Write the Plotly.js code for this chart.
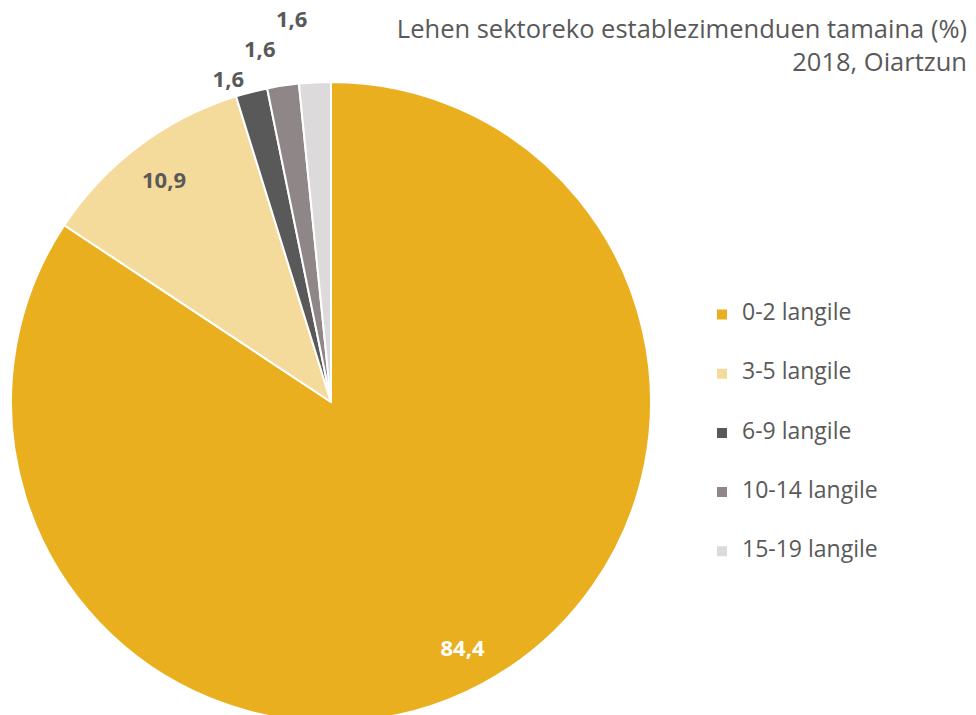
<!DOCTYPE html>
<html>
<head>
<meta charset="utf-8">
<script src="https://cdn.plot.ly/plotly-3.0.1.min.js"></script>
<style>
  html, body { margin: 0; padding: 0; overflow: hidden; background: #fff; }
  #chart { width: 976px; height: 760px; }
  /* the reference has no leader lines on the outside labels */
  #chart path.textline { display: none; }
</style>
</head>
<body>
<div id="chart"></div>
<script>
'use strict';

const categories = ['0-2 langile', '3-5 langile', '6-9 langile', '10-14 langile', '15-19 langile'];
const shares     = [84.4, 10.9, 1.6, 1.6, 1.6];
const colors     = ['#E9AF1F', '#F4DA9B', '#595959', '#8F8787', '#DCDADA'];
const titleLines = ['Lehen sektoreko establezimenduen tamaina (%)', '2018, Oiartzun'];

const W = 976, H = 760;
// pie centre (331, 402) and radius 320, in page pixels
const cx = 331, cy = 402, r = 320;
const domain = {
  x: [(cx - r) / W, (cx + r) / W],
  y: [(H - cy - r) / H, (H - cy + r) / H]
};

// blank lines above and below each entry widen the legend row spacing
const legendLabels = categories.map(c =>
  '<br><span style="font-size:23px">' + c + '</span><br> ');

const labelFont = { family: 'Open Sans', size: 22, weight: 'bold', color: '#595959' };

// the slices, with outside labels for the thin ones
const slices = {
  type: 'pie',
  labels: legendLabels,
  values: shares,
  sort: false,
  direction: 'clockwise',
  rotation: 0,
  marker: { colors: colors, line: { color: '#fff', width: 2 } },
  texttemplate: ['', '', '%{value:.1f}', '%{value:.1f}', '%{value:.1f}'],
  textposition: ['none', 'none', 'outside', 'outside', 'outside'],
  textfont: labelFont,
  outsidetextfont: labelFont,
  hoverinfo: 'skip',
  domain: domain
};

// transparent ring on top: puts the big slices' labels near the rim
const rimLabels = {
  type: 'pie',
  labels: legendLabels,
  values: shares,
  sort: false,
  direction: 'clockwise',
  rotation: 0,
  hole: 0.74,
  showlegend: false,
  marker: { colors: shares.map(() => 'rgba(0,0,0,0)'), line: { width: 0 } },
  texttemplate: ['%{value:.1f}', '%{value:.1f}', '', '', ''],
  textposition: ['inside', 'inside', 'none', 'none', 'none'],
  insidetextorientation: 'horizontal',
  textfont: labelFont,
  insidetextfont: Object.assign({}, labelFont, { color: ['#fff', '#595959', '#fff', '#fff', '#fff'] }),
  hoverinfo: 'skip',
  domain: domain
};

const layout = {
  width: W,
  height: H,
  margin: { t: 0, b: 0, l: 0, r: 0 },
  separators: ',.',
  paper_bgcolor: '#fff',
  font: { family: 'Open Sans', color: '#595959' },
  title: {
    text: titleLines.join('<br>'),
    font: { family: 'Open Sans', size: 25.5, color: '#595959' },
    x: 967 / W, xanchor: 'right', xref: 'paper',
    y: 1 - 38 / H, yanchor: 'top', yref: 'container'
  },
  showlegend: true,
  legend: {
    x: 702 / W, xanchor: 'left',
    y: 1 - 280 / H, yanchor: 'top',
    font: { family: 'Open Sans', size: 14.4, color: '#595959' },
    bgcolor: 'rgba(0,0,0,0)'
  }
};

Plotly.newPlot('chart', [slices, rimLabels], layout, { displayModeBar: false, staticPlot: true });
</script>
</body>
</html>
